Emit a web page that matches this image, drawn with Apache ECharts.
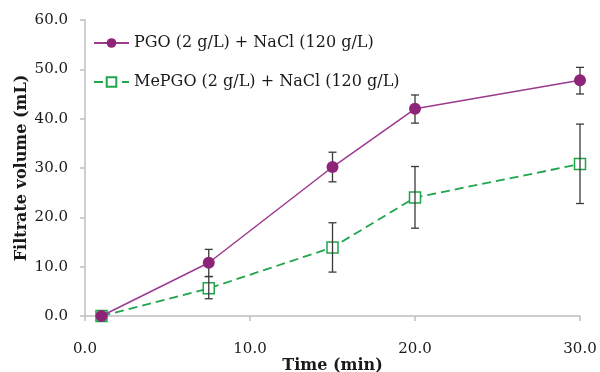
<!DOCTYPE html>
<html>
<head>
<meta charset="utf-8">
<script src="https://cdn.jsdelivr.net/npm/echarts@6/dist/echarts.min.js"></script>
<style>html,body{margin:0;padding:0;background:#fff}#c{width:600px;height:372px}</style>
</head>
<body>
<div id="c"></div>
<script>
var times = [1, 7.5, 15, 20, 30];
var pgoValues = [0, 10.8, 30.2, 42.0, 47.8];
var pgoErrLow = [0, 8.0, 27.2, 39.1, 45.0];
var pgoErrHigh = [0, 13.5, 33.2, 44.8, 50.4];
var mepgoValues = [0, 5.6, 13.9, 24.0, 30.8];
var mepgoErrLow = [0, 3.5, 8.9, 17.8, 22.8];
var mepgoErrHigh = [0, 8.0, 18.9, 30.3, 38.9];
var xTicks = [0, 10, 20, 30];
var yTicks = [0, 10, 20, 30, 40, 50, 60];
var seriesNames = ['PGO (2 g/L) + NaCl (120 g/L)', 'MePGO (2 g/L) + NaCl (120 g/L)'];

var FONT = 'DejaVu Serif';
var purple = '#8E2477';
var purpleLine = '#9C3A8F';
var green = '#1FA54A';
var errColor = '#3A3A3A';

function pairs(xs, ys) { return xs.map(function (x, i) { return [x, ys[i]]; }); }
function errData(xs, lo, hi) { return xs.map(function (x, i) { return [x, lo[i], hi[i]]; }); }

function errRender(params, api) {
  var x = api.value(0), lo = api.value(1), hi = api.value(2);
  if (hi === lo) return null;
  var p1 = api.coord([x, hi]), p2 = api.coord([x, lo]);
  var w = 4;
  var st = { stroke: errColor, lineWidth: 1.3 };
  return {
    type: 'group',
    children: [
      { type: 'line', shape: { x1: p1[0], y1: p1[1], x2: p2[0], y2: p2[1] }, style: st },
      { type: 'line', shape: { x1: p1[0] - w, y1: p1[1], x2: p1[0] + w, y2: p1[1] }, style: st },
      { type: 'line', shape: { x1: p2[0] - w, y1: p2[1], x2: p2[0] + w, y2: p2[1] }, style: st }
    ]
  };
}

var chart = echarts.init(document.getElementById('c'), null, { renderer: 'canvas' });
chart.setOption({
  animation: false,
  backgroundColor: '#fff',
  grid: { left: 85, right: 20, top: 20, bottom: 56, containLabel: false, outerBoundsMode: 'none' },
  legend: {
    data: seriesNames,
    orient: 'vertical',
    left: 88,
    top: 30,
    itemWidth: 35,
    itemHeight: 12,
    itemGap: 23,
    textStyle: { fontFamily: FONT, fontSize: 16, color: '#1a1a1a' }
  },
  xAxis: {
    type: 'value', min: 0, max: 30, interval: 10,
    name: 'Time (min)', nameLocation: 'middle', nameGap: 42, nameMoveOverlap: false,
    nameTextStyle: { fontFamily: FONT, fontWeight: 'bold', fontSize: 16, color: '#1a1a1a' },
    axisLine: { show: true, lineStyle: { color: '#BFBFBF', width: 1.5 } },
    axisTick: { show: true, length: 5, lineStyle: { color: '#BFBFBF', width: 1.5 } },
    splitLine: { show: false },
    axisLabel: { fontFamily: FONT, fontSize: 15, color: '#1a1a1a', margin: 26,
      formatter: function (v) { return xTicks.indexOf(v) >= 0 ? v.toFixed(1) : ''; } }
  },
  yAxis: {
    type: 'value', min: 0, max: 60, interval: 10,
    name: 'Filtrate volume (mL)', nameLocation: 'middle', nameGap: 55, nameMoveOverlap: false,
    nameTextStyle: { fontFamily: FONT, fontWeight: 'bold', fontSize: 16, color: '#1a1a1a' },
    axisLine: { show: true, lineStyle: { color: '#BFBFBF', width: 1.5 } },
    axisTick: { show: true, length: 5, lineStyle: { color: '#BFBFBF', width: 1.5 } },
    splitLine: { show: false },
    axisLabel: { fontFamily: FONT, fontSize: 15, color: '#1a1a1a', margin: 17,
      formatter: function (v) { return yTicks.indexOf(v) >= 0 ? v.toFixed(1) : ''; } }
  },
  series: [
    {
      name: seriesNames[1], type: 'line', data: pairs(times, mepgoValues),
      symbol: 'rect', symbolSize: 11,
      itemStyle: { color: '#fff', borderColor: green, borderWidth: 1.5 },
      lineStyle: { color: green, width: 1.8, type: [9, 5] },
      z: 3
    },
    {
      type: 'custom', renderItem: errRender, data: errData(times, mepgoErrLow, mepgoErrHigh),
      encode: { x: 0, y: [1, 2] }, z: 4, silent: true
    },
    {
      type: 'custom', renderItem: errRender, data: errData(times, pgoErrLow, pgoErrHigh),
      encode: { x: 0, y: [1, 2] }, z: 4, silent: true
    },
    {
      name: seriesNames[0], type: 'line', data: pairs(times, pgoValues),
      symbol: 'circle', symbolSize: 12,
      itemStyle: { color: purple, borderColor: purple, borderWidth: 0 },
      lineStyle: { color: purpleLine, width: 1.5 },
      z: 5
    }
  ]
});
</script>
</body>
</html>
